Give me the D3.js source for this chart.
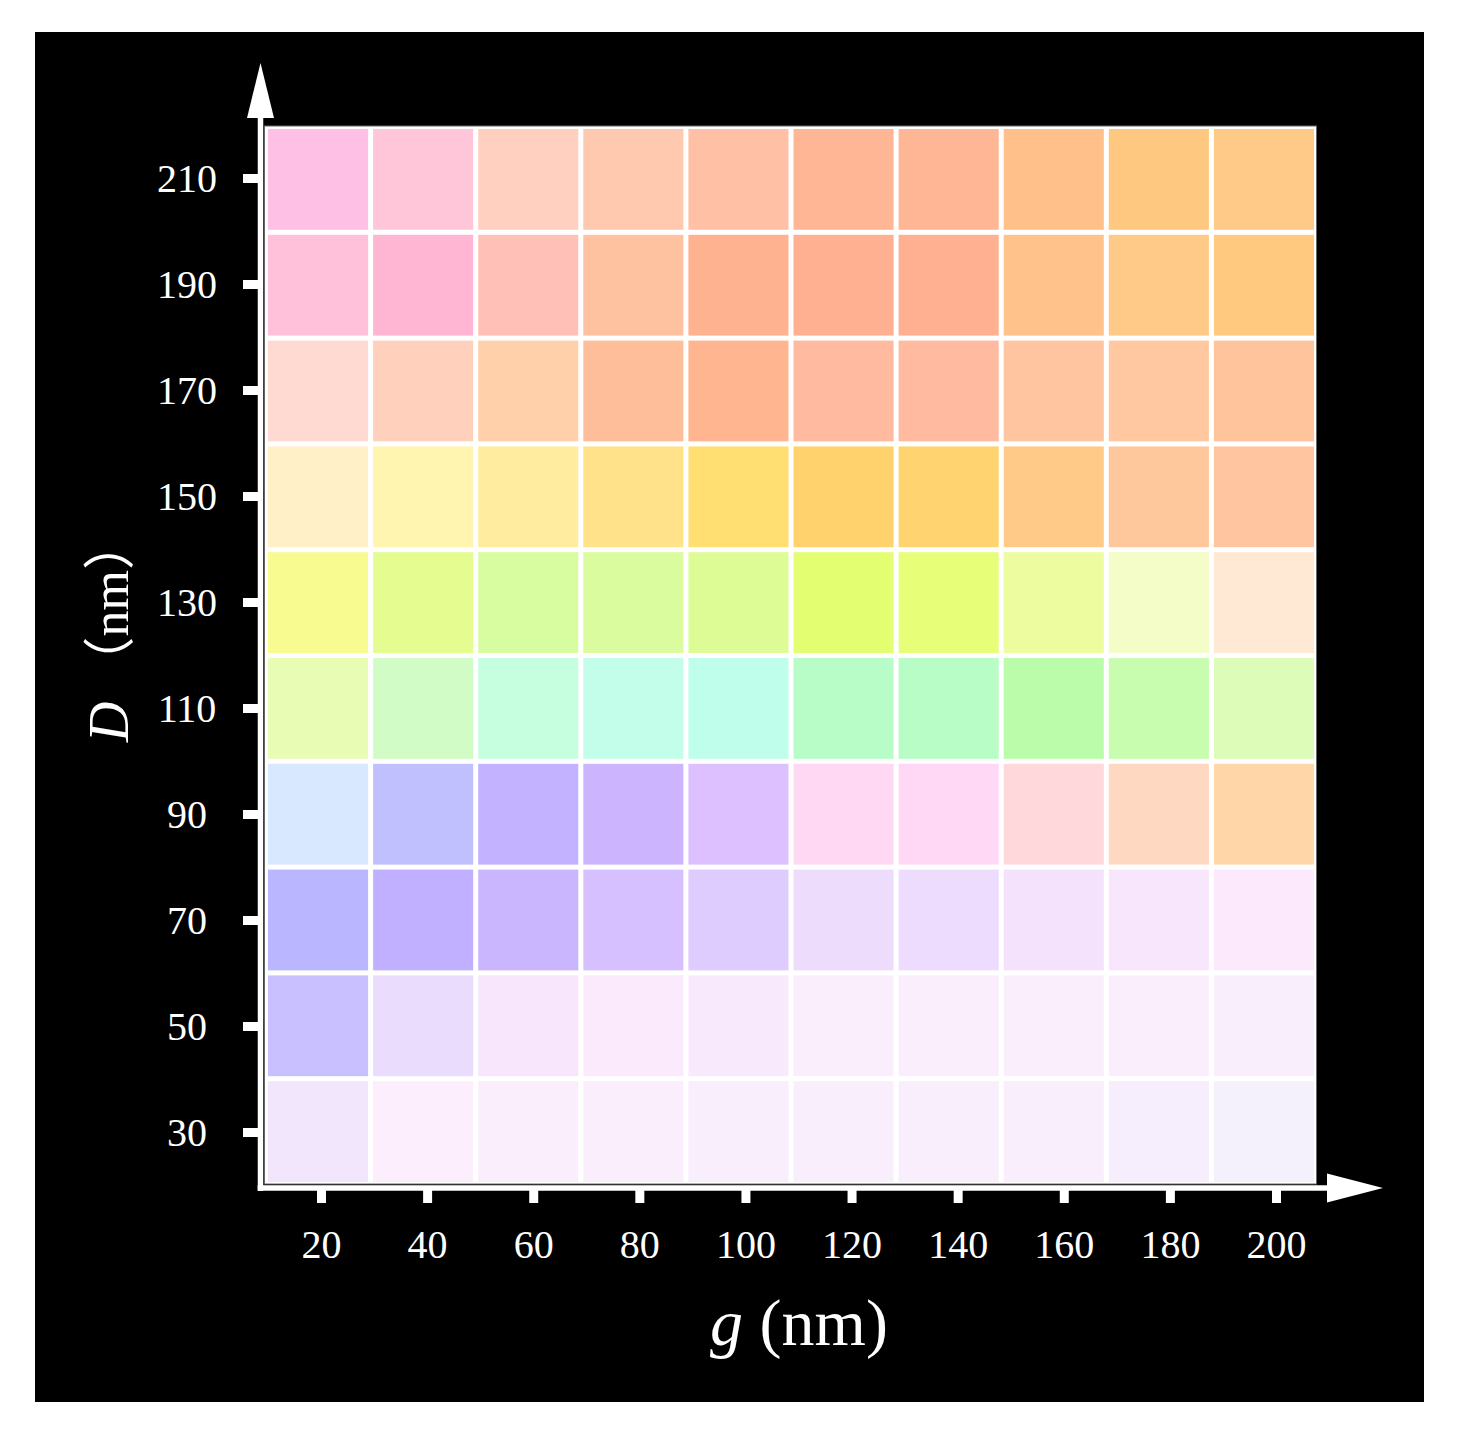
<!DOCTYPE html>
<html>
<head>
<meta charset="utf-8">
<script src="https://cdn.jsdelivr.net/npm/d3@7"></script>
<style>
  html, body { margin: 0; padding: 0; background: #ffffff; }
  svg { display: block; }
</style>
</head>
<body>
<svg id="chart" width="1458" height="1430"></svg>
<script>
// ---- data ----
const gValues = [20, 40, 60, 80, 100, 120, 140, 160, 180, 200];      // g (nm), columns
const dValues = [210, 190, 170, 150, 130, 110, 90, 70, 50, 30];      // D (nm), rows top -> bottom

const colorsD210 = ["#FFC0E6", "#FFC6DA", "#FFD0C0", "#FFC9B0", "#FFC0A5", "#FFB694", "#FFB695", "#FFC089", "#FFC880", "#FFCA88"];
const colorsD190 = ["#FFC0DA", "#FFB6D2", "#FFC0B8", "#FFC2A0", "#FFB290", "#FFB090", "#FFB090", "#FFC28A", "#FFCA88", "#FFCA80"];
const colorsD170 = ["#FFDAD2", "#FFD0BC", "#FFD0AA", "#FFBE9A", "#FFB690", "#FFBAA0", "#FFBAA0", "#FFC4A0", "#FFC8A0", "#FFC49C"];
const colorsD150 = ["#FFF0C8", "#FFF4B0", "#FFEC9E", "#FFE28A", "#FFDE72", "#FFD26E", "#FFD470", "#FFCA88", "#FFC89C", "#FFC5A0"];
const colorsD130 = ["#F8FC90", "#E4FC90", "#D8FCA0", "#DAFC9E", "#DEFC96", "#E4FE72", "#E6FE78", "#ECFC9E", "#F4FCC8", "#FFE8D4"];
const colorsD110 = ["#E8FCB4", "#D2FCC6", "#C6FEE0", "#C2FEEA", "#C0FEEC", "#B8FCC8", "#B8FCC6", "#BAFCAA", "#C8FCAE", "#DCFCB8"];
const colorsD90  = ["#D8E8FF", "#C0C0FF", "#C2B2FF", "#CCB4FF", "#DCC0FF", "#FFD8F4", "#FFD8F6", "#FFD8DC", "#FFD8C2", "#FFD6A8"];
const colorsD70  = ["#BAB6FF", "#C0B0FF", "#CAB6FF", "#D6C0FF", "#DECCFF", "#EEDCFC", "#EEDCFE", "#F4E2FC", "#F8E6FC", "#FCEAFC"];
const colorsD50  = ["#C8C0FF", "#EADCFC", "#F8E6FC", "#FAEAFC", "#F8EAFC", "#FAEEFC", "#FAEEFC", "#FAEEFC", "#FAEEFC", "#F8EEFC"];
const colorsD30  = ["#F2E6FC", "#FCEEFC", "#FAEEFC", "#FAEEFC", "#F8EEFC", "#F8EEFC", "#F8EEFC", "#F8EEFC", "#F6EEFC", "#F4F0FC"];

const xTitleMain = "g";
const xTitleUnit = " (nm)";
const yTitleMain = "D";
const yTitleUnit = " （nm）";

// ---- build table ----
const rowColors = [colorsD210, colorsD190, colorsD170, colorsD150, colorsD130,
                   colorsD110, colorsD90, colorsD70, colorsD50, colorsD30];
const cells = [];
dValues.forEach((d, i) => {
  gValues.forEach((g, j) => {
    cells.push({ g: g, D: d, color: rowColors[i][j] });
  });
});

// ---- drawing ----
const svg = d3.select("#chart");
const serif = "'Liberation Serif', 'Times New Roman', serif";

// black panel
svg.append("rect")
  .attr("x", 35).attr("y", 32)
  .attr("width", 1389).attr("height", 1370)
  .attr("fill", "#000");

// scales for cells
const xBand = d3.scaleBand().domain(gValues).range([265.5, 1316.5]).padding(0);
const yBand = d3.scaleBand().domain(dValues).range([126.5, 1184.5]).padding(0);

// scales for ticks
const xTick = d3.scaleLinear().domain([20, 200]).range([321, 1276]);
const yTick = d3.scaleLinear().domain([30, 210]).range([1132, 178]);

// white background behind grid
svg.append("rect")
  .attr("x", 264.5).attr("y", 126)
  .attr("width", 1052).attr("height", 1058)
  .attr("fill", "#fff")
  .attr("stroke", "#666")
  .attr("stroke-width", 1);

// cells
const inset = 2.5;
svg.append("g").selectAll("rect")
  .data(cells)
  .join("rect")
  .attr("x", d => xBand(d.g) + inset)
  .attr("y", d => yBand(d.D) + inset)
  .attr("width", xBand.bandwidth() - 2 * inset)
  .attr("height", yBand.bandwidth() - 2 * inset)
  .attr("fill", d => d.color);

// axis lines
svg.append("line")
  .attr("x1", 260.5).attr("x2", 260.5)
  .attr("y1", 112).attr("y2", 1191)
  .attr("stroke", "#fff").attr("stroke-width", 5.5);
svg.append("line")
  .attr("x1", 257.7).attr("x2", 1332)
  .attr("y1", 1188).attr("y2", 1188)
  .attr("stroke", "#fff").attr("stroke-width", 5.5);

// arrow heads
svg.append("path")
  .attr("d", "M260.5,63 L274,118 L247,118 Z")
  .attr("fill", "#fff");
svg.append("path")
  .attr("d", "M1383,1188 L1327,1173.5 L1327,1202.5 Z")
  .attr("fill", "#fff");

// x axis ticks
const xAxis = d3.axisBottom(xTick)
  .tickValues(gValues)
  .tickSizeInner(13)
  .tickSizeOuter(0)
  .tickFormat(d3.format("d"));
const gx = svg.append("g")
  .attr("transform", "translate(0,1190)")
  .call(xAxis);
gx.select(".domain").remove();
gx.selectAll(".tick line")
  .attr("stroke", "#fff")
  .attr("stroke-width", 9);
gx.selectAll(".tick text")
  .attr("y", 68)
  .attr("dy", null)
  .attr("fill", "#fff")
  .attr("font-family", serif)
  .attr("font-size", 40);

// y axis ticks
const yAxis = d3.axisLeft(yTick)
  .tickValues(dValues)
  .tickSizeInner(15)
  .tickSizeOuter(0)
  .tickFormat(d3.format("d"));
const gy = svg.append("g")
  .attr("transform", "translate(258,0)")
  .call(yAxis);
gy.select(".domain").remove();
gy.selectAll(".tick line")
  .attr("stroke", "#fff")
  .attr("stroke-width", 9);
gy.selectAll(".tick text")
  .attr("x", -71)
  .attr("dy", "0.34em")
  .attr("text-anchor", "middle")
  .attr("fill", "#fff")
  .attr("font-family", serif)
  .attr("font-size", 40);

// x title
const xt = svg.append("text")
  .attr("x", 799).attr("y", 1345)
  .attr("text-anchor", "middle")
  .attr("fill", "#fff")
  .attr("font-family", serif)
  .attr("font-size", 66);
xt.append("tspan").attr("font-style", "italic").text(xTitleMain);
xt.append("tspan").text(xTitleUnit);

// y title
const yt = svg.append("text")
  .attr("transform", "translate(128,630) rotate(-90)")
  .attr("text-anchor", "middle")
  .attr("fill", "#fff")
  .attr("font-family", serif + ", 'Noto Sans CJK SC'")
  .attr("font-size", 52);
yt.append("tspan").attr("font-style", "italic").attr("font-size", 56).text(yTitleMain);
yt.append("tspan").text(yTitleUnit);
</script>
</body>
</html>
